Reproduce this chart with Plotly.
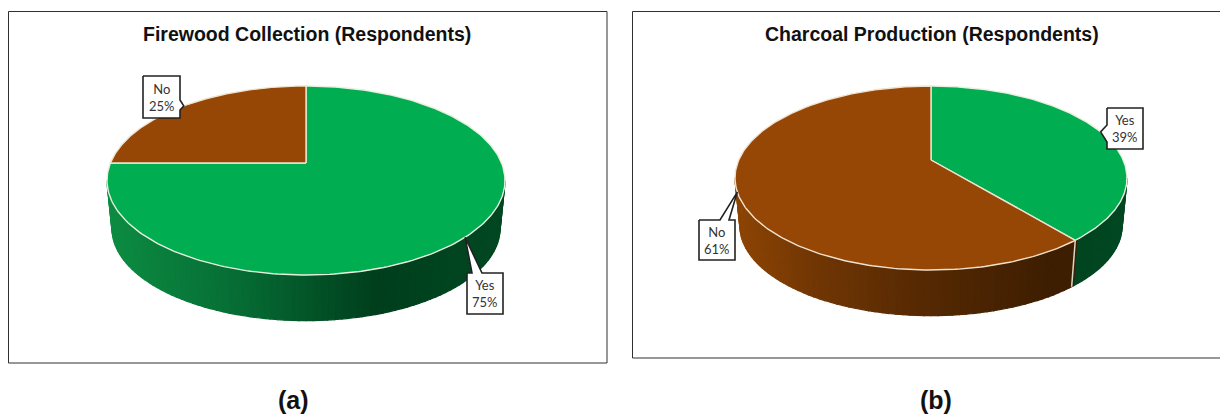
import math
import plotly.graph_objects as go

categories = ["Yes", "No"]
firewood_values = [75, 25]
charcoal_values = [39, 61]
titles = ["Firewood Collection (Respondents)", "Charcoal Production (Respondents)"]
panel_tags = ["(a)", "(b)"]

W, H = 1220, 415
GREEN, BROWN = "#00AD50", "#964605"
SIDE = {
    "Yes": [(0.0, (12, 140, 66)), (0.33, (6, 108, 52)), (0.68, (0, 62, 28)), (1.0, (0, 72, 34))],
    "No": [(0.0, (140, 68, 4)), (0.2, (112, 54, 4)), (0.45, (88, 42, 3)), (0.8, (62, 30, 1)), (1.0, (62, 30, 1))],
}
COLORS = {"Yes": GREEN, "No": BROWN}


def lerp_colour(stops, t):
    t = max(0.0, min(1.0, t))
    for (a, ca), (b, cb) in zip(stops, stops[1:]):
        if t <= b:
            f = (t - a) / (b - a)
            c = [round(p + (q - p) * f) for p, q in zip(ca, cb)]
            return f"rgb({c[0]},{c[1]},{c[2]})"
    c = stops[-1][1]
    return f"rgb({c[0]},{c[1]},{c[2]})"


class Disc:
    """Projected disc: angle is clockwise from the top, perspective foreshortens the far side."""

    def __init__(self, cx, cy, up, down, half_width, drop, shrink):
        self.cx, self.cy = cx, cy
        self.k = (down / up - 1) / (down / up + 1)
        self.b = up * (1 + self.k)
        self.a = half_width * math.sqrt(1 - self.k ** 2)
        self.mid_y = cy + (down - up) / 2
        self.drop, self.shrink = drop, shrink

    def top(self, deg):
        r = math.radians(deg)
        u, v = math.sin(r), math.cos(r)
        w = 1 + self.k * v
        return self.cx + self.a * u / w, self.cy - self.b * v / w

    def low(self, deg):
        x, y = self.top(deg)
        return (self.cx + self.shrink * (x - self.cx),
                self.mid_y + self.drop + self.shrink * (y - self.mid_y))


def frange(a, b, n):
    return [a + (b - a) * i / n for i in range(n + 1)]


fig = go.Figure()


def poly(xs, ys, fill, line=None, width=1.0):
    fig.add_trace(go.Scatter(
        x=xs, y=ys, mode="lines", fill="toself", fillcolor=fill,
        line=dict(color=line or fill, width=width), hoverinfo="skip", showlegend=False))


def draw_pie(values, disc, grad_span, callouts):
    # side wall, front half only
    edge = math.degrees(math.acos(-disc.k))
    cuts = []
    acc = 0
    for name, val in zip(categories, values):
        cuts.append((name, acc * 3.6, (acc + val) * 3.6))
        acc += val
    n = 90
    steps = frange(edge, 360 - edge, n)
    for t1, t2 in zip(steps, steps[1:]):
        tm = (t1 + t2) / 2
        name = next(c[0] for c in cuts if c[1] <= tm < c[2])
        lo = [disc.low(t1), disc.low(t2)]
        up = [disc.top(t1), disc.top(t2)]
        xmid = (up[0][0] + up[1][0]) / 2
        f = (xmid - grad_span[0]) / (grad_span[1] - grad_span[0])
        col = lerp_colour(SIDE[name], f)
        xs = [up[0][0], up[1][0], lo[1][0], lo[0][0], up[0][0]]
        ys = [up[0][1], up[1][1], lo[1][1], lo[0][1], up[0][1]]
        poly(xs, ys, col, width=1.2)
    # seam on side wall where slices meet at the front
    for name, a, b in cuts:
        if edge < a < 360 - edge:
            p, q = disc.top(a), disc.low(a)
            fig.add_trace(go.Scatter(x=[p[0], q[0]], y=[p[1], q[1]], mode="lines",
                                     line=dict(color="#d8d8c8", width=1.5),
                                     hoverinfo="skip", showlegend=False))
    # top slices
    for name, a, b in cuts:
        pts = [disc.top(t) for t in frange(a, b, 240)]
        xs = [disc.cx] + [p[0] for p in pts] + [disc.cx]
        ys = [disc.cy] + [p[1] for p in pts] + [disc.cy]
        rim = "#E9F0DF" if name == "Yes" else "#F0E2CF"
        poly(xs, ys, COLORS[name], line=rim, width=1.4)
    # callouts
    for name, a, b in cuts:
        box, base = callouts[name]
        tip = disc.top((a + b) / 2)
        x0, y0, x1, y1 = box
        if base[0] == "right":
            xs = [x0, x1, x1, tip[0], x1, x1, x0, x0]
            ys = [y0, y0, base[1], tip[1], base[2], y1, y1, y0]
        elif base[0] == "left":
            xs = [x0, x1, x1, x0, x0, tip[0], x0, x0]
            ys = [y0, y0, y1, y1, base[2], tip[1], base[1], y0]
        else:  # top
            xs = [x0, base[1], tip[0], base[2], x1, x1, x0, x0]
            ys = [y0, y0, tip[1], y0, y0, y1, y1, y0]
        poly(xs, ys, "white", line="#222222", width=1.6)
        val = values[categories.index(name)]
        fig.add_annotation(x=(x0 + x1) / 2, y=(y0 + y1) / 2, xref="x", yref="y",
                           text=f"{name}<br>{val}%", showarrow=False,
                           font=dict(family="Lato", size=13, color="#333333"))


frames = [(8.5, 11.5, 607, 363), (632.5, 11.5, 1232, 358)]
for x0, y0, x1, y1 in frames:
    fig.add_shape(type="rect", x0=x0, y0=y0, x1=x1, y1=y1, xref="x", yref="y",
                  line=dict(color="#303030", width=1), fillcolor="white", layer="below")

draw_pie(firewood_values, Disc(306, 163, 77, 112, 199, 48.0, 0.975), (108, 503), {
    "No": ((143, 76, 180, 118), ("right", 100, 110)),
    "Yes": ((467, 273, 503, 314), ("top", 472, 482)),
})
draw_pie(charcoal_values, Disc(931, 160, 74, 110, 196, 48.0, 0.975), (738, 1125), {
    "Yes": ((1107, 108, 1143, 149), ("left", 125, 142)),
    "No": ((699, 220, 735, 260), ("top", 720, 729)),
})

for text, x, y in [(titles[0], 307, 34), (titles[1], 932, 34)]:
    fig.add_annotation(x=x, y=y, xref="x", yref="y", text=f"<b>{text}</b>", showarrow=False,
                       font=dict(family="Liberation Sans", size=19.5, color="#111111"))
for text, x in zip(panel_tags, [293, 936]):
    fig.add_annotation(x=x, y=399.5, xref="x", yref="y", text=f"<b>{text}</b>", showarrow=False,
                       font=dict(family="Liberation Sans", size=25, color="#111111"))

fig.update_layout(
    width=W, height=H, margin=dict(l=0, r=0, t=0, b=0),
    paper_bgcolor="white", plot_bgcolor="white", showlegend=False,
    xaxis=dict(range=[0, W], visible=False, fixedrange=True, domain=[0, 1]),
    yaxis=dict(range=[H, 0], visible=False, fixedrange=True, domain=[0, 1]),
)
fig.write_html("out.html", config={"displayModeBar": False},
               post_script="document.body.style.margin='0';document.body.style.overflow='hidden';")
